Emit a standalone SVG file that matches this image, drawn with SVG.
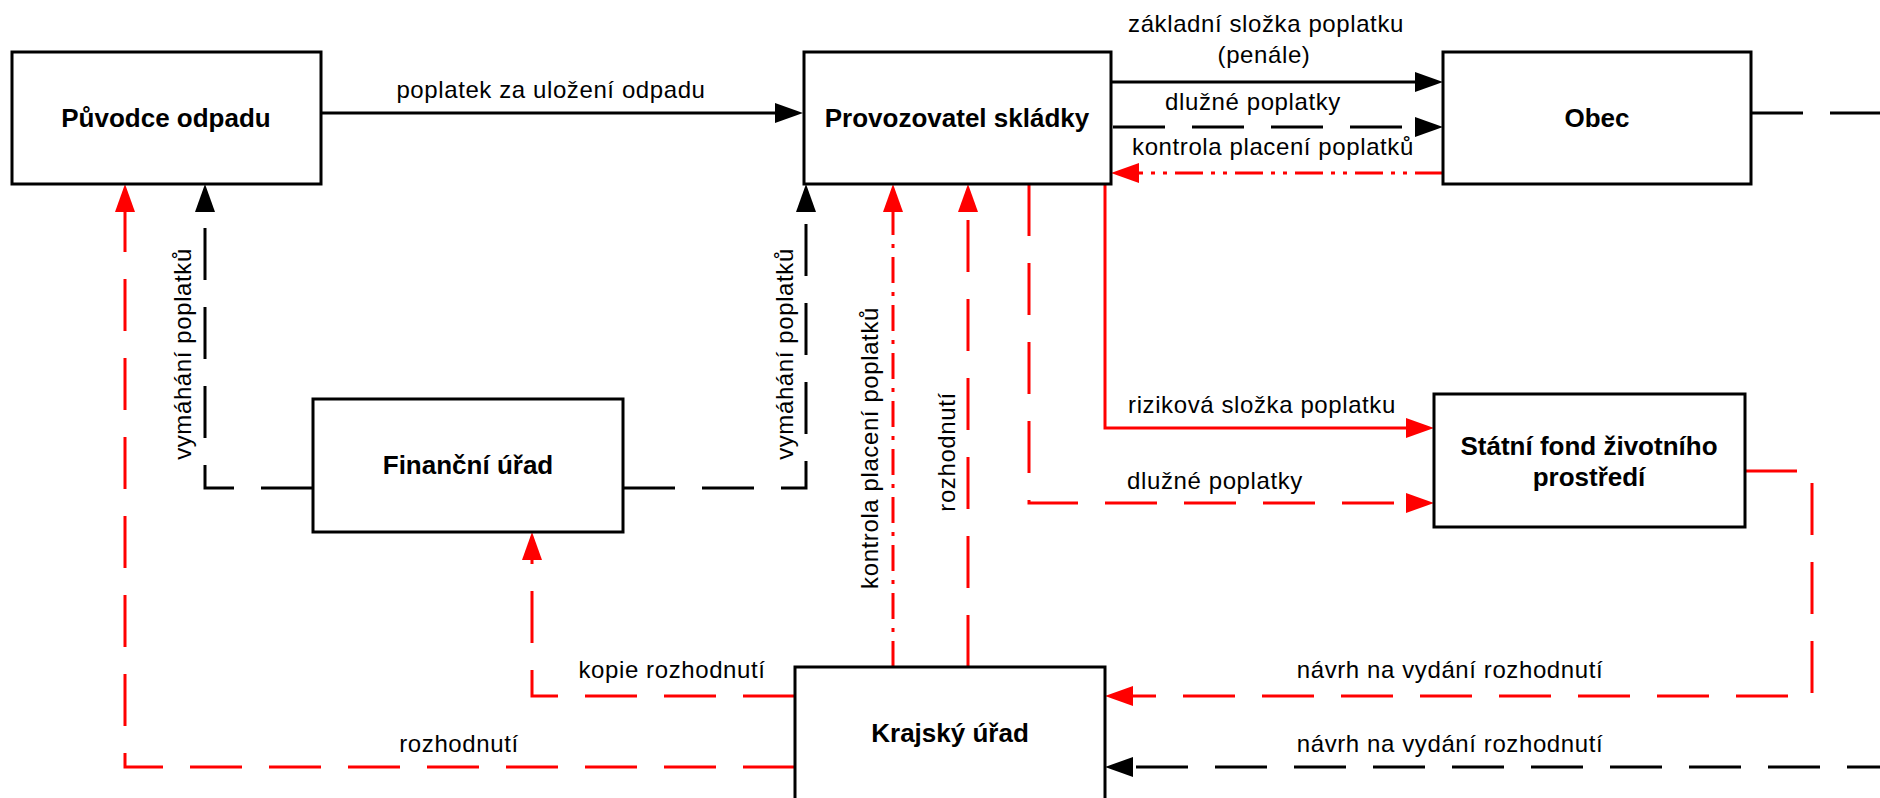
<svg xmlns="http://www.w3.org/2000/svg" width="1880" height="798" viewBox="0 0 1880 798">
<style>
.box{fill:#fff;stroke:#000;stroke-width:3}
.t{font-family:"Liberation Sans",Arial,sans-serif;font-weight:bold;font-size:26px;fill:#000;text-anchor:middle}
.l{font-family:"Liberation Sans",Arial,sans-serif;font-size:24px;letter-spacing:0.6px;fill:#000;text-anchor:middle}
.k{fill:none;stroke:#000;stroke-width:3}
.r{fill:none;stroke:#f00;stroke-width:3}
.d{stroke-dasharray:52 27}
.dd{stroke-dasharray:28 8 4 8 4 8}
.dt{stroke-dasharray:26 9 4 9}
</style>
<defs>
<marker id="ak" markerUnits="userSpaceOnUse" markerWidth="30" markerHeight="22" refX="0" refY="10" orient="auto" overflow="visible"><path d="M0,0 L28,10 L0,20 Z" fill="#000"/></marker>
<marker id="ar" markerUnits="userSpaceOnUse" markerWidth="30" markerHeight="22" refX="0" refY="10" orient="auto" overflow="visible"><path d="M0,0 L28,10 L0,20 Z" fill="#f00"/></marker>
</defs>
<rect width="1880" height="798" fill="#fff"/>
<g id="connectors">
<path class="k" d="M321,113 H775" marker-end="url(#ak)"/>
<path class="k" d="M1111,82 H1415" marker-end="url(#ak)"/>
<path class="k d" d="M1113,127 H1415" marker-end="url(#ak)"/>
<path class="r dd" d="M1443,173 H1139" marker-end="url(#ar)"/>
<path class="k d" d="M1751,113 H1900"/>
<path class="k d" d="M313,488 H205 V212" marker-end="url(#ak)"/>
<path class="k d" d="M623,488 H806 V212" marker-end="url(#ak)"/>
<path class="r dt" d="M893,667 V212" marker-end="url(#ar)"/>
<path class="r d" d="M968,667 V212" marker-end="url(#ar)"/>
<path class="r" d="M1105,184 V428 H1406" marker-end="url(#ar)"/>
<path class="r d" d="M1029,184 V503 H1406" marker-end="url(#ar)"/>
<path class="r d" d="M1745,471 H1812 V696 H1133" marker-end="url(#ar)"/>
<path class="k d" d="M1899,767 H1133" marker-end="url(#ak)"/>
<path class="r d" d="M795,767 H125 V212" marker-end="url(#ar)"/>
<path class="r d" d="M795,696 H532 V560" marker-end="url(#ar)"/>
<text class="l" x="551" y="98">poplatek za uložení odpadu</text>
<text class="l" x="1266" y="32">základní složka poplatku</text>
<text class="l" x="1264" y="63">(penále)</text>
<text class="l" x="1253" y="110">dlužné poplatky</text>
<text class="l" x="1273" y="155">kontrola placení poplatků</text>
<text class="l" x="1262" y="413">riziková složka poplatku</text>
<text class="l" x="1215" y="489">dlužné poplatky</text>
<text class="l" x="672" y="678">kopie rozhodnutí</text>
<text class="l" x="1450" y="678">návrh na vydání rozhodnutí</text>
<text class="l" x="459" y="752">rozhodnutí</text>
<text class="l" x="1450" y="752">návrh na vydání rozhodnutí</text>
<text class="l" transform="translate(191,354) rotate(-90)">vymáhání poplatků</text>
<text class="l" transform="translate(793,354) rotate(-90)">vymáhání poplatků</text>
<text class="l" transform="translate(878,448) rotate(-90)">kontrola placení poplatků</text>
<text class="l" transform="translate(955,452) rotate(-90)">rozhodnutí</text>
</g>
<g id="puvodce">
<rect class="box" x="12" y="52" width="309" height="132"/>
<text class="t" x="166" y="127">Původce odpadu</text>
</g>
<g id="provozovatel">
<rect class="box" x="804" y="52" width="307" height="132"/>
<text class="t" x="957" y="127">Provozovatel skládky</text>
</g>
<g id="obec">
<rect class="box" x="1443" y="52" width="308" height="132"/>
<text class="t" x="1597" y="127">Obec</text>
</g>
<g id="financni">
<rect class="box" x="313" y="399" width="310" height="133"/>
<text class="t" x="468" y="474">Finanční úřad</text>
</g>
<g id="fond">
<rect class="box" x="1434" y="394" width="311" height="133"/>
<text class="t" x="1589" y="455">Státní fond životního</text>
<text class="t" x="1589" y="486">prostředí</text>
</g>
<g id="krajsky">
<rect class="box" x="795" y="667" width="310" height="160"/>
<text class="t" x="950" y="742">Krajský úřad</text>
</g>
</svg>
